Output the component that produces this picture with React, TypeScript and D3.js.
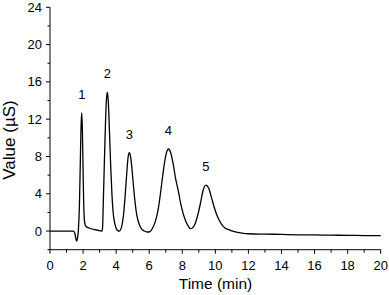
import React from "react";
import * as d3 from "d3";

const times = [
  0, 0.5, 1.0, 1.4, 1.5, 1.56, 1.61, 1.66, 1.72, 1.78, 1.84, 1.88, 1.92, 1.96, 2.0, 2.04, 2.08, 2.12, 2.2, 2.4, 2.7, 3.0, 3.14,
  3.18, 3.23, 3.29, 3.35, 3.41, 3.47, 3.53, 3.6, 3.67, 3.75, 3.83, 3.92, 4.0, 4.1, 4.2,
  4.35, 4.45, 4.55, 4.65, 4.73, 4.8, 4.87, 4.95, 5.05, 5.15, 5.25, 5.4, 5.55, 5.7, 5.9,
  6.05, 6.2, 6.4, 6.55, 6.7, 6.85, 7.0, 7.16, 7.3, 7.45, 7.6, 7.76, 7.9, 8.05, 8.2, 8.35, 8.5,
  8.65, 8.8, 8.95, 9.1, 9.25, 9.42, 9.6, 9.75, 9.9, 10.05, 10.25, 10.4, 10.6, 10.85, 11.05, 11.35, 11.7,
  12, 13, 14, 15, 16, 17, 18, 19, 20,
];
const values = [
  0, 0, 0, 0, -0.2, -0.8, -1.07, -0.8, 0.2, 2.8, 8.0, 11.3, 12.68, 10.8, 6.5, 2.8, 1.2, 0.7, 0.45, 0.3, 0.15, 0.05, 0.0,
  0.4, 3.5, 7.5, 11.2, 14.0, 14.9, 13.8, 10.5, 7.0, 3.8, 1.8, 0.8, 0.3, 0.05, 0.0,
  0.6, 1.8, 3.9, 6.4, 8.0, 8.4, 8.0, 6.8, 4.8, 3.0, 1.7, 0.7, 0.2, 0.0, -0.1,
  -0.05, 0.3, 1.2, 2.4, 4.3, 6.4, 8.1, 8.8, 8.4, 7.2, 5.6, 4.3, 3.0, 1.9, 1.1, 0.55, 0.25,
  0.4, 0.9, 1.8, 3.0, 4.3, 4.93, 4.6, 3.7, 2.75, 1.9, 1.1, 0.65, 0.3, 0.12, -0.02, -0.15, -0.25,
  -0.29, -0.33, -0.36, -0.4, -0.42, -0.44, -0.46, -0.48, -0.5,
];

const peakLabels = ["1", "2", "3", "4", "5"];
const peakTimes = [1.92, 3.47, 4.8, 7.16, 9.42];
const peakHeights = [12.68, 14.9, 8.4, 8.8, 4.93];

const xTicks = [0, 2, 4, 6, 8, 10, 12, 14, 16, 18, 20];
const xMinor = [1, 3, 5, 7, 9, 11, 13, 15, 17, 19];
const yTicks = [0, 4, 8, 12, 16, 20, 24];
const yMinor = [-2, 2, 6, 10, 14, 18, 22];

export default function App() {
  const W = 389, H = 295;
  const x = d3.scaleLinear().domain([0, 20]).range([50, 380.7]);
  const y = d3.scaleLinear().domain([-2, 24]).range([249.7, 7.3]);
  const data = times.map((t, i) => [t, values[i]] as [number, number]);
  const line = d3
    .line<[number, number]>()
    .x((d) => x(d[0]))
    .y((d) => y(d[1]))
    .curve(d3.curveMonotoneX);
  const font = "Arial, 'Liberation Sans', sans-serif";
  return (
    <svg width={W} height={H} style={{ position: "absolute", left: 0, top: 0, background: "#fff" }}>
      <rect width={W} height={H} fill="#fff" />
      <path d={line(data) || ""} fill="none" stroke="#000" strokeWidth={1.3} strokeLinejoin="round" />
      <line x1={x(0)} x2={x(20)} y1={y(-2)} y2={y(-2)} stroke="#000" strokeWidth={1} />
      <line x1={x(0)} x2={x(0)} y1={y(-2)} y2={y(24)} stroke="#000" strokeWidth={1} />
      {xTicks.map((t) => (
        <g key={"xt" + t}>
          <line x1={x(t)} x2={x(t)} y1={y(-2)} y2={y(-2) + 4} stroke="#000" />
          <text x={x(t)} y={270} textAnchor="middle" fontSize={13} fontFamily={font}>
            {t}
          </text>
        </g>
      ))}
      {xMinor.map((t) => (
        <line key={"xm" + t} x1={x(t)} x2={x(t)} y1={y(-2)} y2={y(-2) + 3} stroke="#000" />
      ))}
      {yTicks.map((v) => (
        <g key={"yt" + v}>
          <line x1={x(0) - 4} x2={x(0)} y1={y(v)} y2={y(v)} stroke="#000" />
          <text x={42} y={y(v) + 4.6} textAnchor="end" fontSize={13} fontFamily={font}>
            {v}
          </text>
        </g>
      ))}
      {yMinor.map((v) => (
        <line key={"ym" + v} x1={x(0) - 2.5} x2={x(0)} y1={y(v)} y2={y(v)} stroke="#000" />
      ))}
      {peakLabels.map((lab, i) => (
        <text
          key={"pl" + i}
          x={x(peakTimes[i])}
          y={y(peakHeights[i]) - 14}
          textAnchor="middle"
          fontSize={13}
          fontFamily={font}
        >
          {lab}
        </text>
      ))}
      <text x={215.5} y={288.5} textAnchor="middle" fontSize={15.5} fontFamily={font}>
        Time (min)
      </text>
      <text
        transform={`translate(15,140) rotate(-90)`}
        textAnchor="middle"
        fontSize={17}
        fontFamily={font}
      >
        Value (µS)
      </text>
    </svg>
  );
}
